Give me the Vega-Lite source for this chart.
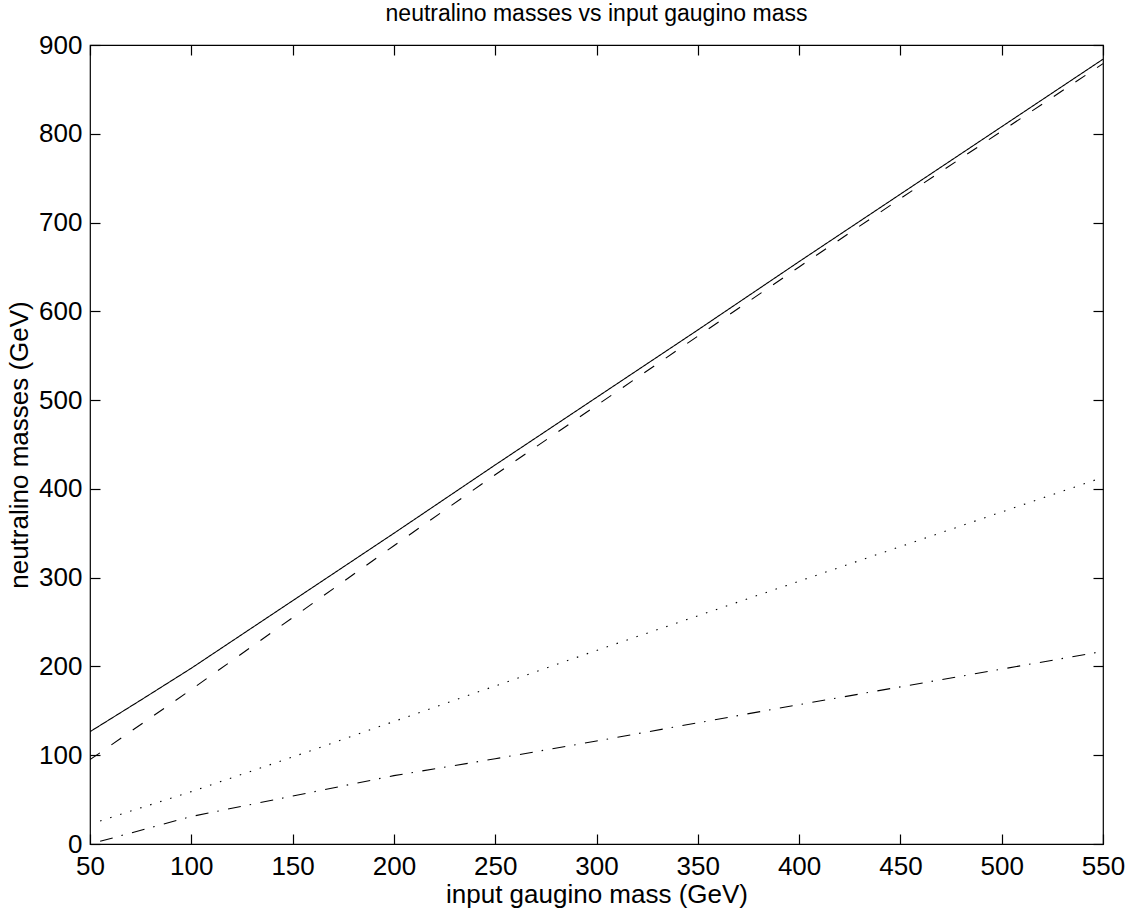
{
  "$schema": "https://vega.github.io/schema/vega-lite/v6.json",
  "width": 1013,
  "height": 799,
  "autosize": "none",
  "padding": {"left": 90, "top": 45, "right": 32, "bottom": 69},
  "background": "white",
  "title": {
    "text": "neutralino masses vs input gaugino mass",
    "font": "Liberation Sans",
    "fontSize": 23,
    "fontWeight": "normal",
    "color": "black",
    "anchor": "middle",
    "offset": 6
  },
  "config": {
    "view": {"stroke": "black", "strokeWidth": 1.2},
    "axis": {
      "labelFont": "Liberation Sans",
      "titleFont": "Liberation Sans",
      "labelFontSize": 26,
      "titleFontSize": 26,
      "titleFontWeight": "normal",
      "labelColor": "black",
      "titleColor": "black",
      "tickColor": "black",
      "domain": false,
      "grid": false,
      "tickSize": -10,
      "tickWidth": 1.2
    }
  },
  "data": {
    "values": [
      {"m": 50, "mass": 126.5, "s": "chi4"},
      {"m": 75, "mass": 162, "s": "chi4"},
      {"m": 100, "mass": 198, "s": "chi4"},
      {"m": 150, "mass": 274, "s": "chi4"},
      {"m": 200, "mass": 350, "s": "chi4"},
      {"m": 250, "mass": 427, "s": "chi4"},
      {"m": 300, "mass": 503, "s": "chi4"},
      {"m": 350, "mass": 579, "s": "chi4"},
      {"m": 400, "mass": 656, "s": "chi4"},
      {"m": 450, "mass": 732, "s": "chi4"},
      {"m": 500, "mass": 808, "s": "chi4"},
      {"m": 550, "mass": 884, "s": "chi4"},
      {"m": 50, "mass": 95, "s": "chi3"},
      {"m": 100, "mass": 174, "s": "chi3"},
      {"m": 150, "mass": 255, "s": "chi3"},
      {"m": 200, "mass": 336, "s": "chi3"},
      {"m": 250, "mass": 416, "s": "chi3"},
      {"m": 300, "mass": 494, "s": "chi3"},
      {"m": 350, "mass": 572, "s": "chi3"},
      {"m": 400, "mass": 650, "s": "chi3"},
      {"m": 450, "mass": 727, "s": "chi3"},
      {"m": 500, "mass": 803, "s": "chi3"},
      {"m": 550, "mass": 879, "s": "chi3"},
      {"m": 55, "mass": 26, "s": "chi2"},
      {"m": 100, "mass": 59, "s": "chi2"},
      {"m": 150, "mass": 98, "s": "chi2"},
      {"m": 200, "mass": 138, "s": "chi2"},
      {"m": 250, "mass": 178, "s": "chi2"},
      {"m": 300, "mass": 218, "s": "chi2"},
      {"m": 350, "mass": 257, "s": "chi2"},
      {"m": 400, "mass": 296, "s": "chi2"},
      {"m": 450, "mass": 335, "s": "chi2"},
      {"m": 500, "mass": 374, "s": "chi2"},
      {"m": 550, "mass": 413, "s": "chi2"},
      {"m": 55, "mass": 3, "s": "chi1"},
      {"m": 100, "mass": 31, "s": "chi1"},
      {"m": 150, "mass": 54, "s": "chi1"},
      {"m": 200, "mass": 77, "s": "chi1"},
      {"m": 250, "mass": 96, "s": "chi1"},
      {"m": 300, "mass": 116, "s": "chi1"},
      {"m": 350, "mass": 136.5, "s": "chi1"},
      {"m": 400, "mass": 157, "s": "chi1"},
      {"m": 450, "mass": 177, "s": "chi1"},
      {"m": 500, "mass": 197, "s": "chi1"},
      {"m": 550, "mass": 217, "s": "chi1"}
    ]
  },
  "layer": [
    {
      "mark": {"type": "line", "color": "black", "strokeWidth": 1.1, "clip": true},
      "encoding": {
        "x": {
          "field": "m", "type": "quantitative",
          "scale": {"domain": [50, 550], "nice": false, "zero": false},
          "axis": {"orient": "bottom", "values": [50,100,150,200,250,300,350,400,450,500,550], "title": "input gaugino mass (GeV)", "labelPadding": 19, "titlePadding": 2, "labelFlush": false, "labelOverlap": false}
        },
        "y": {
          "field": "mass", "type": "quantitative",
          "scale": {"domain": [0, 900], "nice": false},
          "axis": {"orient": "left", "values": [0,100,200,300,400,500,600,700,800,900], "title": "neutralino masses (GeV)", "labelPadding": 18, "titlePadding": 6, "labelFlush": false, "labelOverlap": false}
        },
        "detail": {"field": "s"},
        "strokeDash": {
          "field": "s", "type": "nominal",
          "scale": {"domain": ["chi4", "chi3", "chi2", "chi1"], "range": [[1, 0], [12, 14], [1.5, 9], [13, 9, 1.5, 9.5]]},
          "legend": null
        }
      }
    },
    {
      "mark": {"type": "line", "opacity": 0},
      "encoding": {
        "x": {
          "field": "m", "type": "quantitative",
          "axis": {"orient": "top", "values": [50,100,150,200,250,300,350,400,450,500,550], "labels": false, "title": null}
        },
        "y": {
          "field": "mass", "type": "quantitative",
          "axis": {"orient": "right", "values": [0,100,200,300,400,500,600,700,800,900], "labels": false, "title": null}
        },
        "detail": {"field": "s"}
      }
    }
  ],
  "resolve": {"axis": {"x": "independent", "y": "independent"}}
}
